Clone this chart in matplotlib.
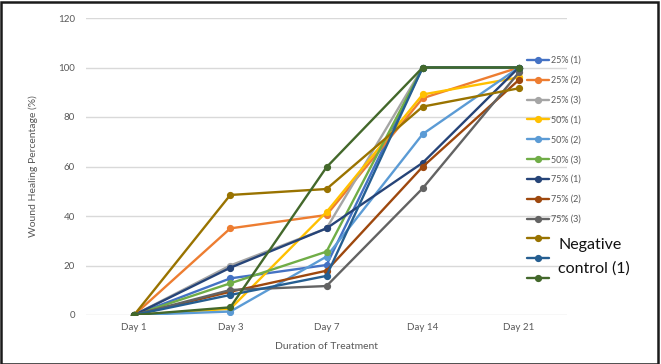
import matplotlib
matplotlib.use("Agg")
import matplotlib.pyplot as plt
from matplotlib.patches import Rectangle

plt.rcParams['font.family'] = ['Lato', 'DejaVu Sans']

days = ["Day 1", "Day 3", "Day 7", "Day 14", "Day 21"]
series_names = ["25% (1)", "25% (2)", "25% (3)", "50% (1)", "50% (2)", "50% (3)",
                "75% (1)", "75% (2)", "75% (3)", "Negative control (1)",
                "Negative control (2)", "Negative control (3)"]
s25_1 = [0, 14.8, 20.2, 100, 100]
s25_2 = [0, 35.0, 40.4, 87.6, 100]
s25_3 = [0, 20.0, 35.0, 100, 100]
s50_1 = [0, 2.5, 41.6, 89.1, 96.0]
s50_2 = [0, 1.4, 23.6, 73.1, 100]
s50_3 = [0, 12.8, 25.6, 100, 100]
s75_1 = [0, 19.1, 35.0, 61.5, 100]
s75_2 = [0, 9.4, 17.9, 59.9, 95.0]
s75_3 = [0, 10.1, 11.7, 51.2, 98.0]
neg_1 = [0, 48.5, 50.9, 84.2, 91.6]
neg_2 = [0, 8.1, 15.8, 100, 100]
neg_3 = [0, 3.1, 59.7, 100, 100]
series_values = [s25_1, s25_2, s25_3, s50_1, s50_2, s50_3,
                 s75_1, s75_2, s75_3, neg_1, neg_2, neg_3]
colors = ["#4472C4", "#ED7D31", "#A5A5A5", "#FFC000", "#5B9BD5", "#70AD47",
          "#264478", "#9E480E", "#636363", "#997300", "#255E91", "#43682B"]
legend_labels = series_names[:9] + ["", "", ""]

W, H = 661, 364
fig = plt.figure(figsize=(W / 100, H / 100), dpi=100)
ax = fig.add_axes([86 / W, 1 - 315 / H, (567 - 86) / W, (315 - 18) / H])

x = list(range(len(days)))
handles = []
for vals, c, lab in zip(series_values, colors, legend_labels):
    ln, = ax.plot(x, vals, color=c, lw=1.7, marker='o', ms=4.2, label=lab,
                  solid_capstyle='round', zorder=3)
    handles.append(ln)

ax.set_xlim(-0.5, 4.5)
ax.set_ylim(0, 120)
ax.set_yticks(range(0, 121, 20))
ax.set_xticks(x)
ax.set_xticklabels(days)
ax.grid(axis='y', color='#D9D9D9', lw=1)
ax.set_axisbelow(True)
for s in ax.spines.values():
    s.set_visible(False)
ax.tick_params(length=0, labelsize=7, labelcolor='#595959', pad=8)
ax.tick_params(axis='x', pad=6)
ax.set_xlabel("Duration of Treatment", fontsize=7.5, color='#595959', labelpad=7)
ax.set_ylabel("Wound Healing Percentage (%)", fontsize=7.5, color='#595959', labelpad=14)

leg = fig.legend(handles=handles, labels=legend_labels, loc='upper left',
                 bbox_to_anchor=(527 / W, 1 - 56 / H), frameon=False,
                 fontsize=6.5, labelspacing=1.2, handlelength=2.4,
                 handletextpad=0.25, borderpad=0, borderaxespad=0)
for t in leg.get_texts():
    t.set_color('#595959')

fig.text(558 / W, 1 - 245 / H, "Negative", fontsize=11.5, color='#111111',
         va='center', ha='left')
fig.text(558 / W, 1 - 269 / H, "control (1)", fontsize=11.5, color='#111111',
         va='center', ha='left')

fig.patches.append(Rectangle((0.5 / W, 0.5 / H), (658 - 0.5) / W, (362.5 - 0.5) / H,
                             transform=fig.transFigure, fill=False,
                             edgecolor='#1a1a1a', lw=1.8, zorder=10))

fig.savefig("out.png", dpi=100)
